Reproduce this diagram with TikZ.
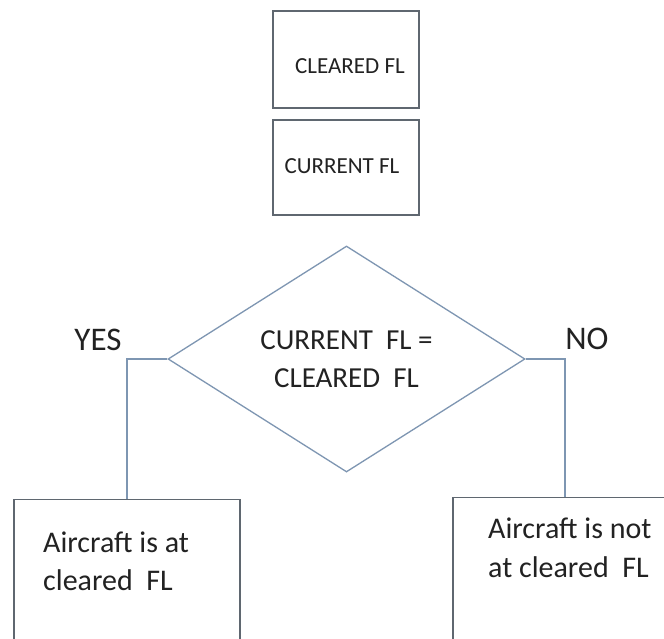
\documentclass[tikz,border=0pt]{standalone}
\usepackage{fontspec}
\setmainfont{Carlito}
\usetikzlibrary{shapes.geometric}
\definecolor{boxline}{HTML}{5F6770}
\definecolor{connline}{HTML}{7E96B2}
\definecolor{txt}{HTML}{222222}
\begin{document}
\begin{tikzpicture}[x=1pt,y=-1pt,
  fbox/.style={draw=boxline,line width=1.3pt,rectangle,inner sep=0pt},
  lab/.style={text=txt,inner sep=0pt},
  conn/.style={draw=connline,line width=1.3pt}]
\useasboundingbox (0,0) rectangle (664,638);
\fill[white] (0,0) rectangle (664,638);
\begin{scope}
\clip (0,0) rectangle (664,638);
\node[fbox,minimum width=146pt,minimum height=97pt] (cl) at (346,59.5) {};
\node[fbox,minimum width=146pt,minimum height=95pt] (cu) at (346,167.5) {};
\node[diamond,draw=connline,line width=1.3pt,minimum width=357pt,minimum height=226pt,inner sep=0pt] (d) at (346.5,359) {};
\node[fbox,minimum width=226pt,minimum height=220pt,anchor=north] (yb) at (127,499) {};
\node[fbox,minimum width=224pt,minimum height=220pt,anchor=north] (nb) at (565,497) {};
\draw[conn] (d.west) -| (yb.north);
\draw[conn] (d.east) -| (nb.north);
\end{scope}
\node[lab,font=\fontsize{23}{26}\selectfont] (clt) at (350,66) {CLEARED FL};
\node[lab,font=\fontsize{23}{26}\selectfont] (cut) at (342,166) {CURRENT FL};
\node[lab,align=center,font=\fontsize{29}{38}\selectfont] (dt) at (d.center) {CURRENT\ \ FL =\\CLEARED\ \ FL};
\node[lab,anchor=base,font=\fontsize{33}{36}\selectfont] (yes) at (98,350) {YES};
\node[lab,anchor=base,font=\fontsize{33}{36}\selectfont] (no) at (587,349) {NO};
\node[lab,anchor=base west,align=left,font=\fontsize{30}{38}\selectfont] (yt) at (43,590) {Aircraft is at\\cleared\ \ FL};
\node[lab,anchor=base west,align=left,font=\fontsize{30}{39}\selectfont] (nt) at (488,577) {Aircraft is not\\at cleared\ \ FL};
\end{tikzpicture}
\end{document}
